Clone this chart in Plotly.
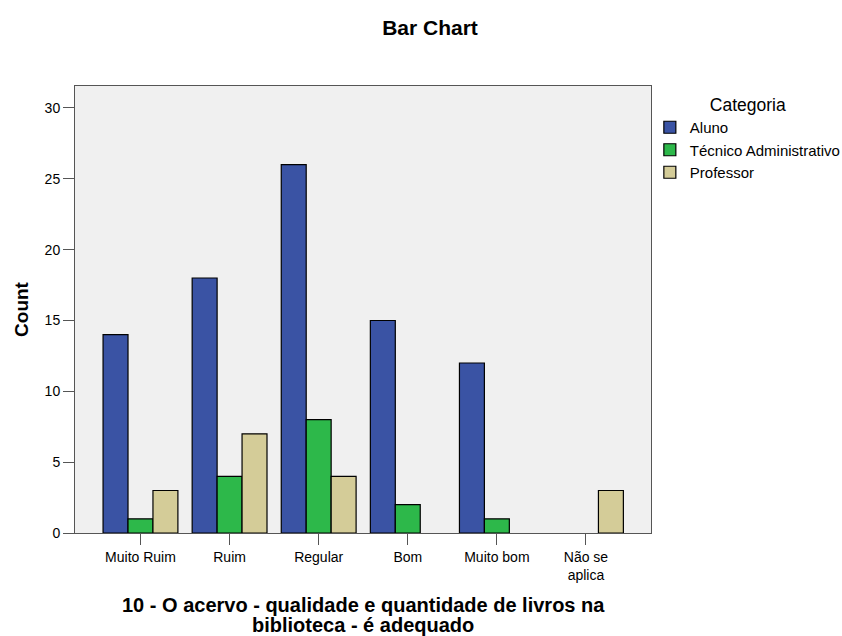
import plotly.graph_objects as go

categories = ["Muito Ruim", "Ruim", "Regular", "Bom", "Muito bom", "Não se<br>aplica"]
aluno = [14, 18, 26, 15, 12, None]
tecnico = [1, 4, 8, 2, 1, None]
professor = [3, 7, 4, None, None, 3]
series_names = ["Aluno", "Técnico Administrativo", "Professor"]
colors = ["#3A53A4", "#2DB84A", "#D4CC98"]
y_ticks = [0, 5, 10, 15, 20, 25, 30]
x_title_lines = ["10 - O acervo - qualidade e quantidade de livros na",
                 "biblioteca - é adequado"]

fig = go.Figure()
for name, vals, col in zip(series_names, [aluno, tecnico, professor], colors):
    fig.add_trace(go.Bar(
        x=list(range(len(categories))), y=vals, name=name,
        marker=dict(color=col, line=dict(color="#000000", width=1.2)),
    ))

font_family = "Liberation Sans, Arial, sans-serif"
W, H = 842, 636
M_L, M_R, M_T, M_B = 75, 191, 86, 103
plot_h = H - M_T - M_B


def paper_y(py):
    return (H - M_B - py) / plot_h


fig.update_layout(
    width=W, height=H,
    paper_bgcolor="white", plot_bgcolor="#F0F0F0",
    barmode="group", bargap=0.16, bargroupgap=0,
    margin=dict(l=M_L, r=M_R, t=M_T, b=M_B, autoexpand=False),
    font=dict(family=font_family, size=14, color="#000000"),
    title=dict(text="<b>Bar Chart</b>", x=430 / W, xref="container", xanchor="center",
               y=1 - 28 / H, yanchor="middle", font=dict(size=21, family=font_family)),
    legend=dict(
        x=0.998, y=0.995, xanchor="left", yanchor="top",
        title=dict(text="Categoria", side="top center", font=dict(size=17.5)),
        font=dict(size=15), tracegroupgap=0, itemwidth=30,
        bgcolor="rgba(0,0,0,0)",
    ),
    showlegend=True,
    annotations=[
        dict(text="<b>" + x_title_lines[0] + "</b>", x=0.5, xref="paper",
             y=paper_y(605), yref="paper", xanchor="center", yanchor="middle",
             showarrow=False, font=dict(size=20)),
        dict(text="<b>" + x_title_lines[1] + "</b>", x=0.5, xref="paper",
             y=paper_y(625), yref="paper", xanchor="center", yanchor="middle",
             showarrow=False, font=dict(size=20)),
    ],
)
fig.update_xaxes(
    tickmode="array", tickvals=list(range(len(categories))), ticktext=categories,
    range=[-0.735, 5.73], automargin=False,
    showline=True, linecolor="#555555", linewidth=1, mirror=True,
    ticks="outside", ticklen=11, tickcolor="#555555", tickwidth=1.3,
    showgrid=False, zeroline=False,
    tickfont=dict(size=14),
)
fig.update_yaxes(
    range=[0, 31.55], tickmode="array", tickvals=y_ticks, automargin=False,
    showline=True, linecolor="#555555", linewidth=1, mirror=True,
    ticks="outside", ticklen=11, tickcolor="#555555", tickwidth=1.3,
    showgrid=False, zeroline=False,
    tickfont=dict(size=14),
    title=dict(text="<b>Count</b>", font=dict(size=19), standoff=10),
)

fig.write_html("out.html", config={"displayModeBar": False},
               post_script="document.body.style.margin='0';")
